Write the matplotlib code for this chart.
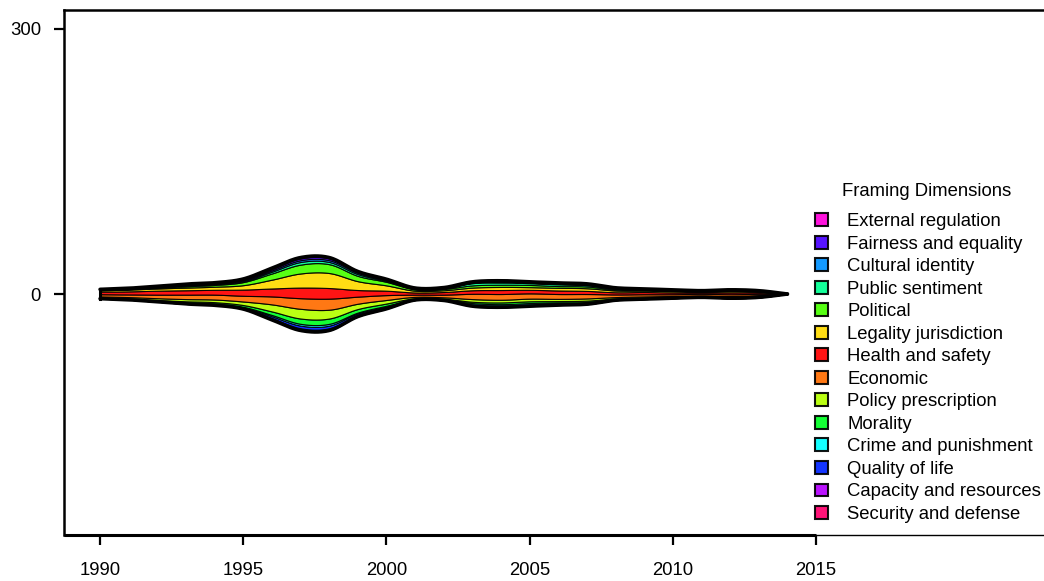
import numpy as np
import matplotlib
matplotlib.use("Agg")
import matplotlib.pyplot as plt
from matplotlib.patches import Patch

plt.rcParams['font.family'] = ['Liberation Sans', 'DejaVu Sans']

# yearly article counts per framing dimension
years = np.arange(1990, 2015)

frames = ["External regulation", "Fairness and equality", "Cultural identity",
          "Public sentiment", "Political", "Legality jurisdiction",
          "Health and safety", "Economic", "Policy prescription", "Morality",
          "Crime and punishment", "Quality of life", "Capacity and resources",
          "Security and defense"]

colors = ["#FF00DB", "#4900FF", "#0092FF", "#00FF92", "#49FF00", "#FFDB00",
          "#FF0000", "#FF6D00", "#B6FF00", "#00FF24", "#00FFFF", "#0024FF",
          "#B600FF", "#FF006D"]

external    = [0, 0, 0, .5, .5, .5, 1, 1, 1, .5, .5, 0, 0, .5, .5, .5, .5, .5, 0, 0, 0, 0, 0, 0, 0]
fairness    = [0, 0, .5, .5, .5, 1, 1.5, 2, 2, 1, .5, .5, .5, .5, .5, .5, .5, .5, .5, 0, 0, 0, 0, 0, 0]
cultural    = [0, .5, .5, .5, .5, 1, 1.5, 2, 2, 1.5, 1, .5, .5, .5, 1, .5, .5, .5, .5, .5, .5, 0, .5, 0, 0]
public      = [.5, .5, .5, 1, 1, 1, 2, 3, 2.5, 2, 1, .5, .5, 2.5, 2.5, 2, 2, 1.5, 1, .5, .5, .5, .5, .5, 0]
political   = [.5, .5, 1, 1.5, 2, 3.5, 7, 10, 10, 6, 4, 1.5, 1.5, 2.5, 2.5, 2.5, 2, 2, 1, 1, .5, .5, .5, .5, 0]
legality    = [1.5, 2, 2.5, 3, 3.5, 5, 10, 16, 17, 10, 6, 2, 2, 3, 3.5, 3, 3, 3, 2, 1.5, 1.5, 1, 1.5, 1, 0]
health      = [3, 3.5, 4.5, 5, 5.5, 7, 9, 12, 12, 7.5, 5, 2.5, 3, 4, 4.5, 4, 4, 3.5, 2.5, 2.5, 2, 1.5, 2, 1.5, 0]
economic    = [2.5, 3, 4, 5, 5.5, 6.5, 9, 12, 12.5, 8, 5.5, 2.5, 3, 6, 6.5, 6, 5.5, 5, 3, 2.5, 2, 2, 2, 1.5, 0]
policy      = [1.5, 1.5, 2, 2.5, 3, 4, 8, 11, 10, 6, 4, 1.5, 1.5, 3, 3, 3, 2.5, 2.5, 1.5, 1.5, 1, 1, 1, 1, 0]
morality    = [.5, .5, 1, 1.5, 1.5, 2, 4, 6, 6, 4, 2.5, 1, 1, 1.5, 2, 2, 1.5, 1.5, 1, .5, .5, .5, .5, .5, 0]
crime       = [.5, .5, .5, .5, .5, .5, 1.5, 2, 2, 1, 1, .5, .5, 1.5, 1.5, 1.5, 1, 1, .5, .5, .5, .5, .5, .5, 0]
quality     = [0, .5, .5, .5, .5, 1, 2, 3, 3, 2, 1.5, .5, .5, 1, 1, 1, 1, 1, .5, .5, .5, 0, .5, .5, 0]
capacity    = [0, 0, 0, .5, .5, .5, 1, 1.5, 1.5, 1, .5, 0, 0, .5, .5, .5, .5, .5, 0, 0, 0, 0, 0, 0, 0]
security    = [0, 0, 0, 0, .5, .5, 1, 1, 1, .5, .5, 0, 0, .5, .5, .5, .5, 0, 0, 0, 0, 0, 0, 0, 0]

series = [external, fairness, cultural, public, political, legality, health,
          economic, policy, morality, crime, quality, capacity, security]


def smooth_curve(x, y, xn):
    # cubic hermite with central-difference slopes
    x = np.asarray(x, float)
    y = np.asarray(y, float)
    d = np.gradient(y, x)
    idx = np.clip(np.searchsorted(x, xn) - 1, 0, len(x) - 2)
    h = x[idx + 1] - x[idx]
    t = (xn - x[idx]) / h
    h00 = 2 * t**3 - 3 * t**2 + 1
    h10 = t**3 - 2 * t**2 + t
    h01 = -2 * t**3 + 3 * t**2
    h11 = t**3 - t**2
    out = h00 * y[idx] + h10 * h * d[idx] + h01 * y[idx + 1] + h11 * h * d[idx + 1]
    return np.clip(out, 0, None)


xs = np.linspace(years[0], years[-1], 600)
# stack from the bottom layer upward
layers = [smooth_curve(years, s, xs) for s in series[::-1]]
layer_colors = colors[::-1]

fig = plt.figure(figsize=(10.44, 5.81), dpi=100)
ax = fig.add_axes([64 / 1044, 46 / 581, 980 / 1044, 525 / 581])

polys = ax.stackplot(xs, layers, baseline='sym', colors=layer_colors,
                     edgecolor='black', linewidth=0.8, alpha=0.92)

total = np.sum(layers, axis=0)
ax.plot(xs, total / 2, color='black', lw=2.6, solid_capstyle='round')
ax.plot(xs, -total / 2, color='black', lw=2.6, solid_capstyle='round')
ax.plot([xs[0], xs[0]], [-total[0] / 2, total[0] / 2], color='black', lw=2.2)

ax.set_xlim(1988.74, 2022.96)
ax.set_ylim(-272.8, 321.5)

FS = 13.3
ax.set_xticks([1990, 1995, 2000, 2005, 2010, 2015])
ax.set_yticks([0, 300])
ax.tick_params(axis='both', length=7.5, width=1.6, labelsize=FS, direction='out')
ax.tick_params(axis='x', pad=12)
ax.tick_params(axis='y', pad=9)

ax.spines['right'].set_visible(False)
ax.spines['left'].set_linewidth(1.8)
ax.spines['top'].set_linewidth(1.8)
ax.spines['bottom'].set_linewidth(1.0)
ax.plot([1988.74, 2015], [-272.8, -272.8], color='black', lw=2.2,
        clip_on=False, solid_capstyle='butt')

# legend
fig.text(927 / 1044, 1 - 191 / 581, "Framing Dimensions", fontsize=FS,
         ha='center', va='center')
handles = [Patch(facecolor=c, edgecolor='black', linewidth=1.5, alpha=0.92)
           for c in colors]
leg = ax.legend(handles, frames, loc='upper left',
                bbox_to_anchor=(815 / 1044, 1 - 213 / 581), bbox_transform=fig.transFigure,
                frameon=False, fontsize=FS,
                handlelength=0.7, handleheight=0.7, handletextpad=1.05,
                labelspacing=0.3, borderpad=0, borderaxespad=0)

fig.savefig("out.png", dpi=100)
